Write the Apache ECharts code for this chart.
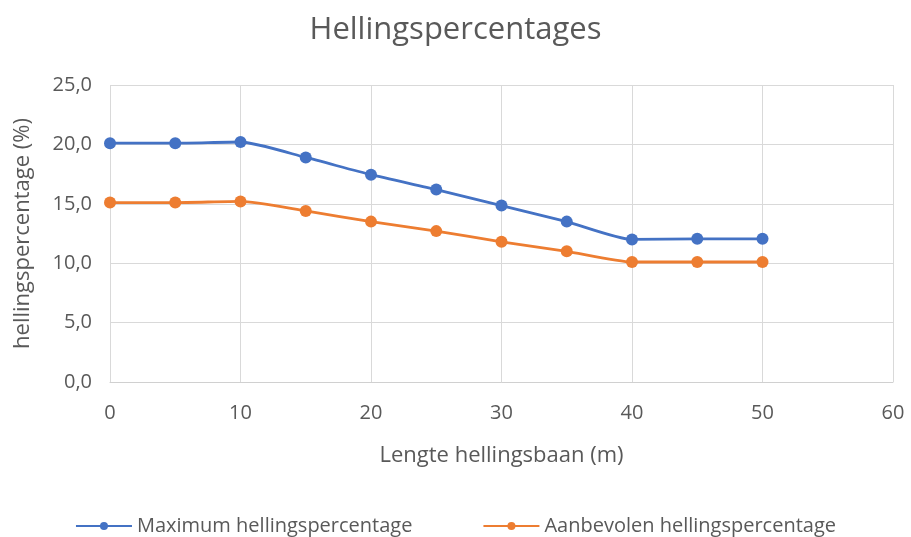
<!DOCTYPE html>
<html><head><meta charset="utf-8">
<script src="https://cdn.jsdelivr.net/npm/echarts@6/dist/echarts.min.js"></script>
<style>html,body{margin:0;padding:0;background:#fff}#c{width:911px;height:537px}</style>
</head><body><div id="c"></div>
<script>
const lengths = [0, 5, 10, 15, 20, 25, 30, 35, 40, 45, 50];
const maximum = [20.1, 20.1, 20.2, 18.9, 17.45, 16.2, 14.85, 13.5, 12.0, 12.05, 12.05];
const aanbevolen = [15.1, 15.1, 15.2, 14.4, 13.5, 12.7, 11.8, 11.0, 10.1, 10.1, 10.1];
const seriesNames = ['Maximum hellingspercentage', 'Aanbevolen hellingspercentage'];
const colors = ['#4472C4', '#ED7D31'];
const font = '"Open Sans", "Noto Sans", sans-serif';
const chart = echarts.init(document.getElementById('c'));
const mk = (name, vals, color) => ({
  name, type: 'line', smooth: 0.2,
  data: lengths.map((x, i) => [x, vals[i]]),
  symbol: 'circle', symbolSize: 12,
  itemStyle: { color },
  lineStyle: { color, width: 2.8 }
});
chart.setOption({
  animation: false,
  textStyle: { fontFamily: font },
  title: { text: 'Hellingspercentages', left: 'center', top: 10,
    textStyle: { fontFamily: font, fontSize: 31, fontWeight: 'normal', color: '#595959' } },
  grid: { left: 110, right: 18, top: 85, bottom: 155 },
  xAxis: { type: 'value', min: 0, max: 60, interval: 10,
    name: 'Lengte hellingsbaan (m)', nameLocation: 'middle', nameGap: 63,
    nameTextStyle: { fontSize: 22, color: '#595959', fontFamily: font },
    axisLine: { lineStyle: { color: '#d0d0d0' } }, axisTick: { show: false },
    axisLabel: { fontSize: 20, color: '#595959', margin: 21 },
    splitLine: { lineStyle: { color: '#d9d9d9' } } },
  yAxis: { type: 'value', min: 0, max: 25, interval: 5,
    name: 'hellingspercentage (%)', nameLocation: 'middle', nameGap: 76,
    nameTextStyle: { fontSize: 22, color: '#595959', fontFamily: font },
    axisLine: { show: false }, axisTick: { show: false },
    axisLabel: { fontSize: 20, color: '#595959', margin: 18,
      formatter: v => v.toFixed(1).replace('.', ',') },
    splitLine: { lineStyle: { color: '#d9d9d9' } } },
  legend: { top: 511, left: 'center', itemGap: 70, itemWidth: 56, itemHeight: 10,
    textStyle: { fontSize: 20, color: '#595959', fontFamily: font },
    data: seriesNames },
  series: [mk(seriesNames[0], maximum, colors[0]), mk(seriesNames[1], aanbevolen, colors[1])]
});
</script></body></html>
